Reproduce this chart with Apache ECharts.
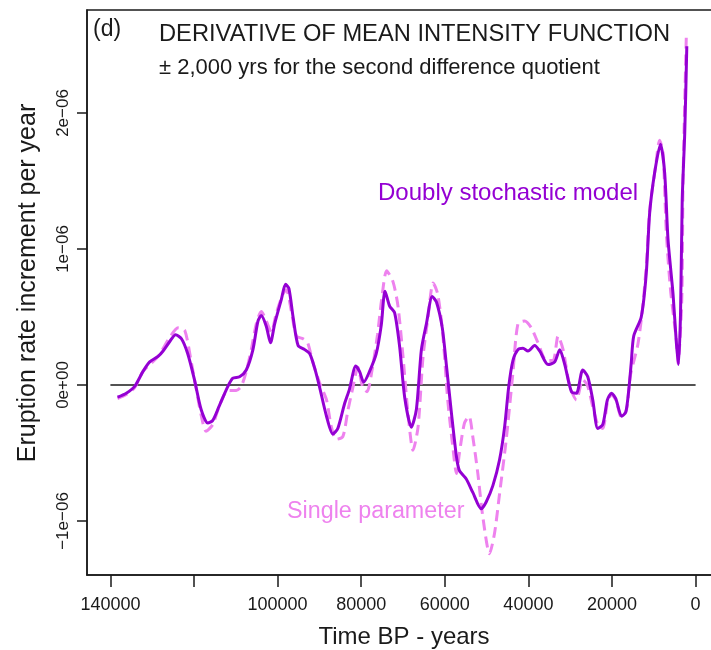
<!DOCTYPE html>
<html><head><meta charset="utf-8">
<script src="https://cdn.jsdelivr.net/npm/echarts@6/dist/echarts.min.js"></script>
<style>html,body{margin:0;padding:0;background:#fff}#c{width:711px;height:650px}</style>
</head><body><div id="c"></div>
<script>
// Values in units of 1e-06 (eruption rate increment per year); time in years BP
const solidT = [138300,136200,134200,132200,130600,128600,127400,125800,124400,123000,121500,119900,118300,116700,115500,113900,111900,110700,109100,107500,105900,104700,103900,102700,101700,100700,99100,98100,97300,96300,95100,93500,92300,91100,90000,88300,86800,85600,84000,82800,81300,80400,79400,78000,76400,75200,74300,73200,72000,70800,69600,68000,66800,65600,64400,63000,62000,60600,59600,58400,57200,56500,54900,53300,51300,50100,48500,46900,45700,44700,43700,42500,41300,40100,38500,37300,35300,33700,32500,31300,29700,28500,27000,25800,24600,23400,22200,21100,20100,19100,17700,16700,16000,15400,14800,13000,11800,11000,9800,8400,7400,6600,5400,4600,4100,3600,3200,2600,2100];
const solidV = [-0.09,-0.06,-0.01,0.10,0.17,0.21,0.25,0.32,0.37,0.34,0.23,0.04,-0.18,-0.28,-0.26,-0.15,-0.01,0.05,0.06,0.11,0.26,0.47,0.51,0.43,0.31,0.45,0.63,0.74,0.71,0.50,0.29,0.26,0.23,0.12,-0.01,-0.23,-0.36,-0.32,-0.14,-0.03,0.14,0.10,0.02,0.10,0.23,0.44,0.69,0.58,0.53,0.28,-0.09,-0.31,-0.18,0.26,0.45,0.65,0.61,0.42,0.14,-0.21,-0.53,-0.63,-0.69,-0.79,-0.91,-0.86,-0.74,-0.55,-0.31,-0.01,0.18,0.26,0.27,0.25,0.29,0.25,0.15,0.17,0.26,0.15,-0.05,-0.06,0.11,0.06,-0.11,-0.32,-0.29,-0.11,-0.06,-0.10,-0.23,-0.20,-0.04,0.16,0.36,0.50,0.82,1.26,1.56,1.77,1.56,1.07,0.67,0.31,0.15,0.53,1.36,1.85,2.49];
const dashT = [138300,136200,134200,132200,128600,125800,123800,122200,120600,119400,118300,117100,115500,113900,111900,109900,108700,107500,106300,105100,103900,102700,101500,100300,98700,97900,96700,95500,93900,92800,91600,90000,88300,87200,86000,84400,83200,82000,80800,79600,78600,77400,76100,75100,73900,72400,71200,70000,68800,67600,66400,65200,64000,62800,61700,60500,59300,58100,57200,56500,55300,54200,53300,52100,50900,49300,48100,46900,45300,43700,42500,40900,39300,37700,35700,34100,32900,31700,30100,28500,27000,25800,24600,23400,22200,21100,20100,19100,17700,16500,15600,13800,12600,11700,11000,9600,8600,7800,7000,6000,4600,4200,3300,3000,2200];
const dashV = [-0.10,-0.07,-0.02,0.10,0.21,0.35,0.42,0.40,0.16,-0.04,-0.22,-0.34,-0.29,-0.15,-0.04,-0.04,-0.01,0.10,0.26,0.45,0.54,0.47,0.39,0.53,0.67,0.70,0.54,0.36,0.34,0.31,0.17,0.02,-0.11,-0.30,-0.40,-0.38,-0.19,-0.02,0.13,-0.02,-0.05,0.11,0.37,0.63,0.84,0.76,0.58,0.21,-0.21,-0.48,-0.31,0.21,0.50,0.75,0.67,0.38,-0.11,-0.45,-0.65,-0.50,-0.28,-0.23,-0.38,-0.65,-0.97,-1.24,-1.09,-0.80,-0.40,0.09,0.45,0.47,0.42,0.31,0.18,0.18,0.36,0.26,-0.01,-0.11,0.04,-0.01,-0.16,-0.29,-0.32,-0.13,-0.07,-0.11,-0.24,-0.18,0.07,0.30,0.59,0.92,1.28,1.60,1.80,1.71,1.12,0.70,0.33,0.16,0.63,1.51,2.59];
const zeroT = [140000, 0];
const xTicks = [140000,120000,100000,80000,60000,40000,20000,0];
const xLabelVals = [140000,100000,80000,60000,40000,20000,0];
const yTicks = [-1,0,1,2];
const yTickText = ['\u22121e\u221206','0e+00','1e\u221206','2e\u221206'];

const FONT = '"Liberation Sans", Arial, sans-serif';
const SOLID = '#9400D3', DASH = '#EE82EE', INK = '#1a1a1a';
const pairs = (t, v) => t.map((x, i) => [x, v[i]]);

const chart = echarts.init(document.getElementById('c'), null, {renderer: 'canvas'});
chart.setOption({
  animation: false,
  backgroundColor: '#fff',
  grid: {left: 87, top: 10, width: 632, height: 565, show: true, borderColor: INK, borderWidth: 1.5,
         containLabel: false, outerBoundsMode: 'none'},
  xAxis: {
    type: 'value', inverse: true, min: -5600, max: 145600,
    axisLine: {show: true, onZero: false, lineStyle: {color: INK, width: 1.5}},
    axisTick: {show: true, customValues: xTicks, length: 12, lineStyle: {color: INK, width: 1.5}},
    axisLabel: {customValues: xLabelVals, margin: 21, fontSize: 18, color: INK, fontFamily: FONT,
      formatter: v => String(Math.round(v))},
    splitLine: {show: false}
  },
  yAxis: {
    type: 'value', min: -1.397, max: 2.757,
    axisLine: {show: true, onZero: false, lineStyle: {color: INK, width: 1.5}},
    axisTick: {show: true, customValues: yTicks, length: 10, lineStyle: {color: INK, width: 1.5}},
    axisLabel: {customValues: yTicks, rotate: 90, margin: 15, fontSize: 17, color: INK, fontFamily: FONT,
      formatter: v => yTickText[yTicks.indexOf(Math.round(v))]},
    splitLine: {show: false}
  },
  series: [
    {type: 'line', data: zeroT.map(t => [t, 0]), showSymbol: false, silent: true,
     lineStyle: {color: INK, width: 1.5}, z: 1},
    {type: 'line', name: 'Single parameter', data: pairs(dashT, dashV), showSymbol: false, smooth: 0.25,
     lineStyle: {color: DASH, width: 3, type: [11, 6]}, z: 2},
    {type: 'line', name: 'Doubly stochastic model', data: pairs(solidT, solidV), showSymbol: false, smooth: 0.25,
     lineStyle: {color: SOLID, width: 3}, z: 3}
  ],
  graphic: [
    {type: 'text', x: 93, y: 30, style: {text: '(d)', fontSize: 23, fontFamily: FONT, fill: INK, textAlign: 'left', textVerticalAlign: 'middle'}},
    {type: 'text', x: 159, y: 34, style: {text: 'DERIVATIVE OF MEAN INTENSITY FUNCTION', fontSize: 23.7, fontFamily: FONT, fill: INK, textAlign: 'left', textVerticalAlign: 'middle'}},
    {type: 'text', x: 159, y: 68, style: {text: '\u00b1 2,000 yrs for the second difference quotient', fontSize: 22, fontFamily: FONT, fill: INK, textAlign: 'left', textVerticalAlign: 'middle'}},
    {type: 'text', x: 378, y: 193, style: {text: 'Doubly stochastic model', fontSize: 24, fontFamily: FONT, fill: SOLID, textAlign: 'left', textVerticalAlign: 'middle'}},
    {type: 'text', x: 287, y: 512, style: {text: 'Single parameter', fontSize: 23.3, fontFamily: FONT, fill: DASH, textAlign: 'left', textVerticalAlign: 'middle'}},
    {type: 'text', x: 404, y: 637, style: {text: 'Time BP - years', fontSize: 24, fontFamily: FONT, fill: INK, textAlign: 'center', textVerticalAlign: 'middle'}},
    {type: 'text', x: 28, y: 283, rotation: Math.PI / 2, style: {text: 'Eruption rate increment per year', fontSize: 25, fontFamily: FONT, fill: INK, textAlign: 'center', textVerticalAlign: 'middle'}}
  ]
});
</script></body></html>
